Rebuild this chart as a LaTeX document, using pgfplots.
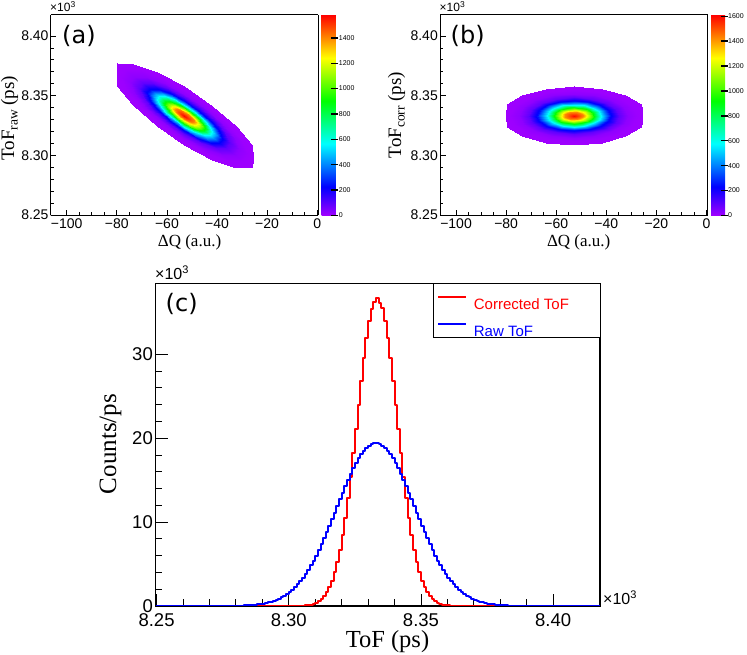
\documentclass[border=0pt]{standalone}
\usepackage{pgfplots}
\pgfplotsset{compat=1.18}
\usepackage{pgfplotstable}
\usepackage{fontspec}
\setmainfont{Liberation Serif}
\newfontfamily\arial{Liberation Sans}
\newfontfamily\dejavu{DejaVu Sans}
\pgfplotsset{colormap={root}{rgb255(0cm)=(160,0,255) rgb255(1cm)=(0,0,255) rgb255(2.5cm)=(0,255,255) rgb255(4cm)=(0,255,0) rgb255(5.5cm)=(255,255,0) rgb255(7cm)=(255,0,0)}}
\pgfplotstableread{
x ya yb za zb
-53 8.33330 8.33330 1580 1600
-53 8.33330 8.33330 1580 1600
-53 8.33330 8.33330 1580 1600
-53 8.33330 8.33330 1580 1600
-53 8.33330 8.33330 1580 1600
-53 8.33330 8.33330 1580 1600
-53 8.33330 8.33330 1580 1600
-53 8.33330 8.33330 1580 1600
-53 8.33330 8.33330 1580 1600
-53 8.33330 8.33330 1580 1600
-53 8.33330 8.33330 1580 1600
-53 8.33330 8.33330 1580 1600
-53 8.33330 8.33330 1580 1600
-53 8.33330 8.33330 1580 1600
-53 8.33330 8.33330 1580 1600
-53 8.33330 8.33330 1580 1600
-53 8.33330 8.33330 1580 1600
-49.375 8.32866 8.33330 1408 1426
-49.651 8.33018 8.33447 1408 1426
-50.437 8.33219 8.33547 1408 1426
-51.613 8.33435 8.33613 1408 1426
-53 8.33636 8.33636 1408 1426
-54.387 8.33791 8.33613 1408 1426
-55.563 8.33875 8.33547 1408 1426
-56.349 8.33876 8.33447 1408 1426
-56.625 8.33794 8.33330 1408 1426
-56.349 8.33642 8.33213 1408 1426
-55.563 8.33441 8.33113 1408 1426
-54.387 8.33225 8.33047 1408 1426
-53 8.33024 8.33024 1408 1426
-51.613 8.32869 8.33047 1408 1426
-50.437 8.32785 8.33113 1408 1426
-49.651 8.32784 8.33213 1408 1426
-49.375 8.32866 8.33330 1408 1426
-45.75 8.32402 8.33330 997 1010
-46.302 8.32707 8.33564 997 1010
-47.873 8.33107 8.33763 997 1010
-50.225 8.33541 8.33896 997 1010
-53 8.33943 8.33943 997 1010
-55.775 8.34251 8.33896 997 1010
-58.127 8.34419 8.33763 997 1010
-59.698 8.34421 8.33564 997 1010
-60.25 8.34258 8.33330 997 1010
-59.698 8.33953 8.33096 997 1010
-58.127 8.33553 8.32897 997 1010
-55.775 8.33119 8.32764 997 1010
-53 8.32717 8.32717 997 1010
-50.225 8.32409 8.32764 997 1010
-47.873 8.32241 8.32897 997 1010
-46.302 8.32239 8.33096 997 1010
-45.75 8.32402 8.33330 997 1010
-42.125 8.31938 8.33330 561 568
-42.953 8.32396 8.33682 561 568
-45.31 8.32996 8.33980 561 568
-48.838 8.33646 8.34179 561 568
-53 8.34249 8.34249 561 568
-57.162 8.34712 8.34179 561 568
-60.69 8.34964 8.33980 561 568
-63.047 8.34968 8.33682 561 568
-63.875 8.34722 8.33330 561 568
-63.047 8.34264 8.32978 561 568
-60.69 8.33664 8.32680 561 568
-57.162 8.33014 8.32481 561 568
-53 8.32411 8.32411 561 568
-48.838 8.31948 8.32481 561 568
-45.31 8.31696 8.32680 561 568
-42.953 8.31692 8.32978 561 568
-42.125 8.31938 8.33330 561 568
-38.5 8.31474 8.33330 250 253
-39.603 8.32084 8.33799 250 253
-42.747 8.32884 8.34196 250 253
-47.451 8.33752 8.34462 250 253
-53 8.34555 8.34555 250 253
-58.549 8.35172 8.34462 250 253
-63.253 8.35508 8.34196 250 253
-66.397 8.35514 8.33799 250 253
-67.5 8.35186 8.33330 250 253
-66.397 8.34576 8.32861 250 253
-63.253 8.33776 8.32464 250 253
-58.549 8.32908 8.32198 250 253
-53 8.32105 8.32105 250 253
-47.451 8.31488 8.32198 250 253
-42.747 8.31152 8.32464 250 253
-39.603 8.31146 8.32861 250 253
-38.5 8.31474 8.33330 250 253
-34.875 8.31010 8.33330 89 90
-36.254 8.31773 8.33916 89 90
-40.184 8.32773 8.34413 89 90
-46.064 8.33857 8.34745 89 90
-53 8.34861 8.34861 89 90
-59.936 8.35633 8.34745 89 90
-65.816 8.36053 8.34413 89 90
-69.746 8.36059 8.33916 89 90
-71.125 8.35650 8.33330 89 90
-69.746 8.34887 8.32744 89 90
-65.816 8.33887 8.32247 89 90
-59.936 8.32803 8.31915 89 90
-53 8.31799 8.31799 89 90
-46.064 8.31027 8.31915 89 90
-40.184 8.30607 8.32247 89 90
-36.254 8.30601 8.32744 89 90
-34.875 8.31010 8.33330 89 90
-31.25 8.30546 8.33330 25 25
-32.905 8.31461 8.34033 25 25
-37.62 8.32660 8.34629 25 25
-44.676 8.33963 8.35028 25 25
-53 8.35168 8.35168 25 25
-61.324 8.36093 8.35028 25 25
-68.38 8.36598 8.34629 25 25
-73.095 8.36605 8.34033 25 25
-74.75 8.36114 8.33330 25 25
-73.095 8.35199 8.32627 25 25
-68.38 8.34000 8.32031 25 25
-61.324 8.32697 8.31632 25 25
-53 8.31492 8.31492 25 25
-44.676 8.30567 8.31632 25 25
-37.62 8.30062 8.32031 25 25
-32.905 8.30055 8.32627 25 25
-31.25 8.30546 8.33330 25 25
-27.625 8.30082 8.33330 6 6
-29.556 8.31149 8.34150 6 6
-35.057 8.32549 8.34846 6 6
-43.289 8.34068 8.35311 6 6
-53 8.35474 8.35474 6 6
-62.711 8.36554 8.35311 6 6
-70.943 8.37143 8.34846 6 6
-76.444 8.37151 8.34150 6 6
-78.375 8.36578 8.33330 6 6
-76.444 8.35511 8.32510 6 6
-70.943 8.34111 8.31814 6 6
-62.711 8.32592 8.31349 6 6
-53 8.31186 8.31186 6 6
-43.289 8.30106 8.31349 6 6
-35.057 8.29517 8.31814 6 6
-29.556 8.29509 8.32510 6 6
-27.625 8.30082 8.33330 6 6
-25.5 8.29810 8.33330 1 1
-26.207 8.30838 8.34268 1 1
-32.494 8.32437 8.35062 1 1
-41.902 8.34173 8.35594 1 1
-53 8.35780 8.35780 1 1
-64.098 8.37015 8.35594 1 1
-73.506 8.37687 8.35062 1 1
-79.793 8.37698 8.34268 1 1
-80 8.36786 8.33330 1 1
-79.793 8.35822 8.32392 1 1
-73.506 8.34223 8.31598 1 1
-64.098 8.32487 8.31066 1 1
-53 8.30880 8.30880 1 1
-41.902 8.29645 8.31066 1 1
-32.494 8.28973 8.31598 1 1
-26.207 8.28962 8.32392 1 1
-25.5 8.29810 8.33330 1 1
}\tabAB
\pgfplotsset{
  small2d/.style={
    anchor=south west, scale only axis, width=267.5pt, height=200.5pt,
    view={0}{90},
    xmin=-106.4, xmax=0.4, ymin=8.2496, ymax=8.4176, zmin=0, zmax=1700,
    xtick={-100,-80,-60,-40,-20,0}, xticklabels={−100,−80,−60,−40,−20,0},
    ytick={8.25,8.30,8.35,8.40}, yticklabels={8.25,8.30,8.35,8.40},
    ztick=\empty,
    minor x tick num=3, minor y tick num=4,
    tick align=inside, xtick pos=left, ytick pos=left,
    major tick length=5.5pt, minor tick length=3pt,
    tick style={black, line width=0.8pt},
    axis line style={line width=1pt},
    xticklabel style={font=\arial\fontsize{14}{14}\selectfont, inner ysep=3pt},
    yticklabel style={font=\arial\fontsize{14}{14}\selectfont, inner xsep=2pt},
    colormap name=root,
    colorbar shift/.style={xshift=3.5pt},
    colorbar,
    point meta min=0,
  },
  cbar/.style={
    at={(parent axis.north east)}, anchor=north west,
    width=16.5pt,
    axis on top,
    ytick pos=right, yticklabel pos=right,
    tick align=inside,
    major tick length=7pt,
    ytick style={draw=black, line width=1.4pt},
    axis line style={draw=none},
    yticklabel style={font=\arial\fontsize{7}{7}\selectfont, inner xsep=0pt, xshift=0.5pt},
  },
}
\begin{document}
\begin{tikzpicture}
\useasboundingbox (0,0) rectangle (747pt,655pt);
% (a)
\begin{axis}[small2d, at={(50.7pt,439.5pt)}, point meta max=1580,
  colorbar style={cbar, ytick={0,200,400,600,800,1000,1200,1400}, yticklabels={0,200,400,600,800,1000,1200,1400}}]
\addplot3[surf, shader=interp, mesh/rows=9, mesh/cols=17, point meta=\thisrow{za}] table[x=x, y=ya, z=za] {\tabAB};
\end{axis}
% (b)
\begin{axis}[small2d, at={(440pt,439.5pt)}, point meta max=1610,
  colorbar style={cbar, ytick={0,200,400,600,800,1000,1200,1400,1600}, yticklabels={0,200,400,600,800,1000,1200,1400,1600}}]
\addplot3[surf, shader=interp, mesh/rows=9, mesh/cols=17, point meta=\thisrow{zb}] table[x=x, y=yb, z=zb] {\tabAB};
\end{axis}
% (c)
\begin{axis}[at={(155.5pt,49pt)}, anchor=south west, scale only axis, width=444.5pt, height=322.7pt,
  xmin=8.2496, xmax=8.4177, ymin=0, ymax=38.46,
  xtick={8.25,8.30,8.35,8.40}, xticklabels={8.25,8.30,8.35,8.40},
  ytick={0,10,20,30}, yticklabels={0,10,20,30},
  minor x tick num=4, minor y tick num=4,
  tick align=inside, xtick pos=left, ytick pos=left,
  major tick length=12pt, minor tick length=6.5pt,
  tick style={black, line width=0.9pt},
  axis line style={line width=1.2pt},
  xticklabel style={font=\arial\fontsize{18.5}{18.5}\selectfont, inner ysep=7pt},
  yticklabel style={font=\arial\fontsize{18.5}{18.5}\selectfont, inner xsep=2.5pt},
  legend style={at={(1,1)}, anchor=north east, fill=white,
    inner xsep=5pt, inner ysep=0pt, row sep=0pt, column sep=0pt,
    font=\arial\fontsize{15}{15}\selectfont, cells={anchor=west}, nodes={inner sep=0pt}},
  legend image code/.code={\draw[#1, line width=1.5pt] (0pt,0pt) -- (28pt,0pt);},
]
\addplot[color=red, line width=2pt, line join=round, const plot mark left] coordinates {
(8.2496,0) (8.302,0.0089) (8.303,0.0151) (8.304,0.0253) (8.305,0.0414) (8.306,0.0666) (8.307,0.105) (8.308,0.164) (8.309,0.251) (8.310,0.377) (8.311,0.556) (8.312,0.806) (8.313,1.150) (8.314,1.611) (8.315,2.220) (8.316,3.005) (8.317,3.999) (8.318,5.230) (8.319,6.721) (8.320,8.491) (8.321,10.54) (8.322,12.87) (8.323,15.43) (8.324,18.19) (8.325,21.07) (8.326,23.99) (8.327,26.85) (8.328,29.53) (8.329,31.93) (8.330,33.92) (8.331,35.42) (8.332,36.25) (8.333,36.67) (8.334,36.15) (8.335,35.52) (8.336,33.92) (8.337,31.93) (8.338,29.53) (8.339,26.85) (8.340,23.99) (8.341,21.07) (8.342,18.19) (8.343,15.43) (8.344,12.87) (8.345,10.54) (8.346,8.491) (8.347,6.721) (8.348,5.230) (8.349,3.999) (8.350,3.005) (8.351,2.220) (8.352,1.611) (8.353,1.150) (8.354,0.806) (8.355,0.556) (8.356,0.377) (8.357,0.251) (8.358,0.164) (8.359,0.105) (8.360,0.0666) (8.361,0.0414) (8.362,0.0253) (8.363,0.0151) (8.364,0) (8.4177,0)
};
\addlegendentry{\hspace*{6.7pt}\makebox[120.9pt][l]{\textcolor{red}{Corrected ToF}}\rule[-14.45pt]{0pt}{40pt}}
\addplot[color=blue, line width=2pt, line join=round, const plot mark left] coordinates {
(8.2496,0) (8.273,0.005) (8.274,0.007) (8.275,0.009) (8.276,0.012) (8.277,0.016) (8.278,0.020) (8.279,0.026) (8.280,0.033) (8.281,0.042) (8.282,0.053) (8.283,0.067) (8.284,0.084) (8.285,0.105) (8.286,0.130) (8.287,0.161) (8.288,0.198) (8.289,0.243) (8.290,0.297) (8.291,0.361) (8.292,0.436) (8.293,0.525) (8.294,0.628) (8.295,0.749) (8.296,0.889) (8.297,1.050) (8.298,1.234) (8.299,1.445) (8.300,1.683) (8.301,1.952) (8.302,2.253) (8.303,2.589) (8.304,2.960) (8.305,3.370) (8.306,3.818) (8.307,4.307) (8.308,4.835) (8.309,5.403) (8.310,6.010) (8.311,6.654) (8.312,7.333) (8.313,8.045) (8.314,8.783) (8.315,9.546) (8.316,10.33) (8.317,11.12) (8.318,11.92) (8.319,12.72) (8.320,13.51) (8.321,14.28) (8.322,15.02) (8.323,15.74) (8.324,16.41) (8.325,17.02) (8.326,17.58) (8.327,18.08) (8.328,18.50) (8.329,18.85) (8.330,19.11) (8.331,19.29) (8.332,19.38) (8.333,19.38) (8.334,19.29) (8.335,19.11) (8.336,18.85) (8.337,18.50) (8.338,18.08) (8.339,17.58) (8.340,17.02) (8.341,16.41) (8.342,15.74) (8.343,15.02) (8.344,14.28) (8.345,13.51) (8.346,12.72) (8.347,11.92) (8.348,11.12) (8.349,10.33) (8.350,9.546) (8.351,8.783) (8.352,8.045) (8.353,7.333) (8.354,6.654) (8.355,6.010) (8.356,5.403) (8.357,4.835) (8.358,4.307) (8.359,3.818) (8.360,3.370) (8.361,2.960) (8.362,2.589) (8.363,2.253) (8.364,1.952) (8.365,1.683) (8.366,1.445) (8.367,1.234) (8.368,1.050) (8.369,0.889) (8.370,0.749) (8.371,0.628) (8.372,0.525) (8.373,0.436) (8.374,0.361) (8.375,0.297) (8.376,0.243) (8.377,0.198) (8.378,0.161) (8.379,0.130) (8.380,0.105) (8.381,0.084) (8.382,0.067) (8.383,0.053) (8.384,0.042) (8.385,0.033) (8.386,0.026) (8.387,0.020) (8.388,0.016) (8.389,0.012) (8.390,0.009) (8.391,0.007) (8.392,0.005) (8.393,0) (8.4177,0)
};
\addlegendentry{\hspace*{6.7pt}\makebox[120.9pt][l]{\textcolor{blue}{Raw ToF}}\rule[-14.45pt]{0pt}{40pt}}
\end{axis}
% texts
\node[anchor=base west, inner sep=0pt, font=\arial\fontsize{12}{12}\selectfont] at (50pt,643pt) {×10\raisebox{4.5pt}{\fontsize{8.5}{8.5}\selectfont 3}};
\node[anchor=base west, inner sep=0pt, font=\arial\fontsize{12}{12}\selectfont] at (439.5pt,643pt) {×10\raisebox{4.5pt}{\fontsize{8.5}{8.5}\selectfont 3}};
\node[anchor=base west, inner sep=0pt, font=\arial\fontsize{16}{16}\selectfont] at (155pt,375pt) {×10\raisebox{6pt}{\fontsize{11}{11}\selectfont 3}};
\node[anchor=base west, inner sep=0pt, font=\arial\fontsize{16}{16}\selectfont] at (603pt,50pt) {×10\raisebox{6pt}{\fontsize{11}{11}\selectfont 3}};
\node[anchor=base west, inner sep=0pt, font=\dejavu\fontsize{24}{24}\selectfont] at (62pt,611.5pt) {(a)};
\node[anchor=base west, inner sep=0pt, font=\dejavu\fontsize{24}{24}\selectfont] at (450.5pt,611.5pt) {(b)};
\node[anchor=base west, inner sep=0pt, font=\dejavu\fontsize{24}{24}\selectfont] at (165.5pt,343.2pt) {(c)};
\node[rotate=90, anchor=base, inner sep=0pt, font=\fontsize{19}{19}\selectfont] at (14pt,536.7pt) {ToF\raisebox{-3.5pt}{\fontsize{13.5}{13.5}\selectfont raw} (ps)};
\node[rotate=90, anchor=base, inner sep=0pt, font=\fontsize{19}{19}\selectfont] at (401pt,540pt) {ToF\raisebox{-3.5pt}{\fontsize{13.5}{13.5}\selectfont corr} (ps)};
\node[anchor=base, inner sep=0pt, font=\fontsize{17}{17}\selectfont] at (189.5pt,408.7pt) {ΔQ (a.u.)};
\node[anchor=base, inner sep=0pt, font=\fontsize{17}{17}\selectfont] at (578.7pt,408.7pt) {ΔQ (a.u.)};
\node[anchor=base, inner sep=0pt, font=\fontsize{24.5}{24.5}\selectfont] at (387.5pt,7pt) {ToF (ps)};
\node[rotate=90, anchor=base, inner sep=0pt, font=\fontsize{25}{25}\selectfont] at (116pt,211pt) {Counts/ps};
\end{tikzpicture}
\end{document}
